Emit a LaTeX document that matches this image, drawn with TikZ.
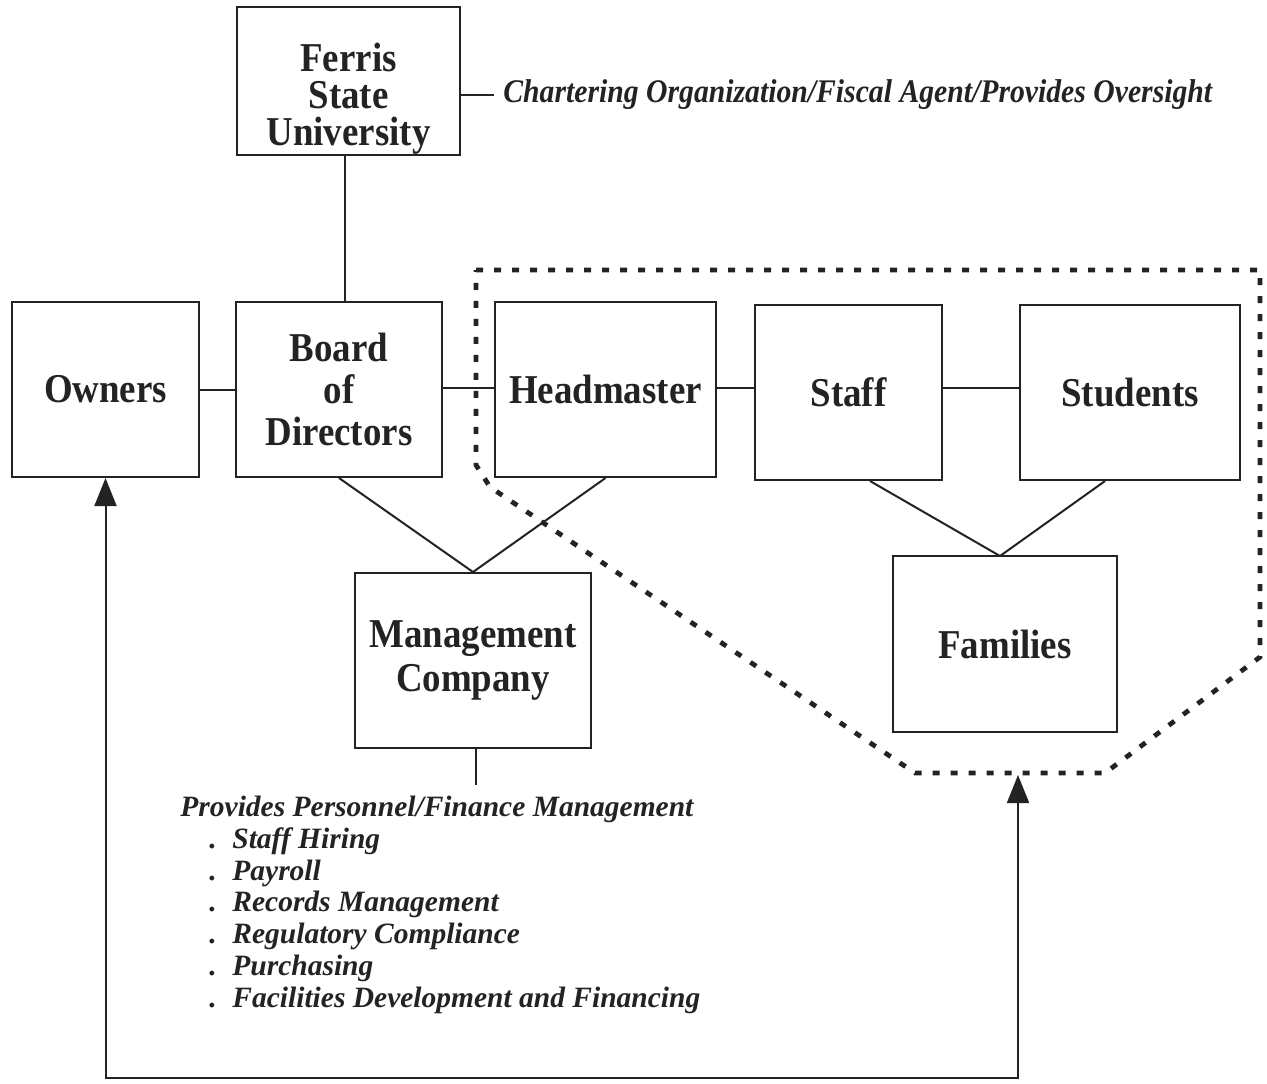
\documentclass[tikz,border=0pt]{standalone}
\usepackage{fontspec}
\setmainfont{Liberation Serif}
\newfontfamily\condserif[FakeStretch=0.9]{Liberation Serif}
\usetikzlibrary{arrows.meta,calc}
\definecolor{ink}{RGB}{35,35,35}
\newcommand\svcitem[1]{\makebox[26pt][l]{\hspace*{14.5pt}.}#1}
\begin{document}
\begin{tikzpicture}[x=0.5pt,y=-0.5pt,
  >={Triangle[width=11pt,length=14pt]},
  unitbox/.style={draw=ink, line width=1pt, inner sep=0pt, align=center, text=ink,
    font=\condserif\bfseries\fontsize{20.5pt}{21pt}\selectfont},
  link/.style={draw=ink, line width=1pt},
  note/.style={inner sep=0pt, text=ink, font=\bfseries\itshape\fontsize{14.75pt}{15.85pt}\selectfont},
  region/.style={draw=ink, line width=2.4pt, dash pattern=on 3.5pt off 5.5pt}
]
\useasboundingbox (0,0) rectangle (1267,1083);

% top: chartering university
\node[unitbox, minimum width=111.5pt, minimum height=74pt] (fsu) at (348.5,81) {};
\node[inner sep=0pt, align=center, text=ink,
      font=\condserif\bfseries\fontsize{20.5pt}{18.5pt}\selectfont] (fsulabel) at (348.5,99)
      {Ferris\\State\\University};
\node[note, anchor=west, font=\condserif\bfseries\itshape\fontsize{16.5pt}{18pt}\selectfont]
      (charter) at (503,95) {Chartering Organization/Fiscal Agent/Provides Oversight};

% governance row
\node[unitbox, minimum width=93.5pt, minimum height=87.5pt] (owners) at (105.5,389.5) {Owners};
\node[unitbox, minimum width=103pt, minimum height=87.5pt] (board) at (339,389.5) {Board\\of\\Directors};
\node[unitbox, minimum width=110.5pt, minimum height=87.5pt] (head) at (605.5,389.5) {Headmaster};
\node[unitbox, minimum width=93.5pt, minimum height=87.5pt] (staff) at (848.5,392.5) {Staff};
\node[unitbox, minimum width=110pt, minimum height=87.5pt] (students) at (1130,392.5) {Students};

% lower boxes
\node[unitbox, minimum width=118pt, minimum height=87.5pt,
      font=\condserif\bfseries\fontsize{20.5pt}{22pt}\selectfont] (mgmt) at (473,660.5) {Management\\Company};
\node[unitbox, minimum width=112pt, minimum height=88pt] (families) at (1005,644) {Families};

% helper points
\coordinate (famapex) at (1000,556);
\coordinate (svctop) at (476,785);
\coordinate (grouptip) at (1018,775);
\coordinate (loopbase) at (0,1078);

% connectors
\draw[link] (fsu.east |- charter.west) -- ($(charter.west)+(-9,0)$);
\draw[link] (fsu.south -| 345,0) -- (board.north -| 345,0);
\draw[link] (owners.east) -- (board.west);
\draw[link] (board.east |- 0,388) -- (head.west |- 0,388);
\draw[link] (head.east |- 0,388) -- (staff.west |- 0,388);
\draw[link] (staff.east |- 0,388) -- (students.west |- 0,388);
\draw[link] (board.south) -- (mgmt.north) -- (head.south);
\draw[link] ($(staff.south)+(21.5,0)$) -- (famapex) -- ($(students.south)+(-25,0)$);
\draw[link] (mgmt.south -| svctop) -- (svctop);

% school community boundary
\draw[region] (476,270) -- (1260,270) -- (1260,657) -- (1105,773) -- (915,773)
  -- (490,487) -- (476,465) -- cycle;

% feedback loop from families back to owners
\draw[link, <->] (owners.south) -- (owners.south |- loopbase)
  -- (grouptip |- loopbase) -- (grouptip);

% services list
\node[note, anchor=north west, align=left] (services) at (180,796)
  {Provides Personnel/Finance Management\\
   \svcitem{Staff Hiring}\\
   \svcitem{Payroll}\\
   \svcitem{Records Management}\\
   \svcitem{Regulatory Compliance}\\
   \svcitem{Purchasing}\\
   \svcitem{Facilities Development and Financing}};
\end{tikzpicture}
\end{document}
